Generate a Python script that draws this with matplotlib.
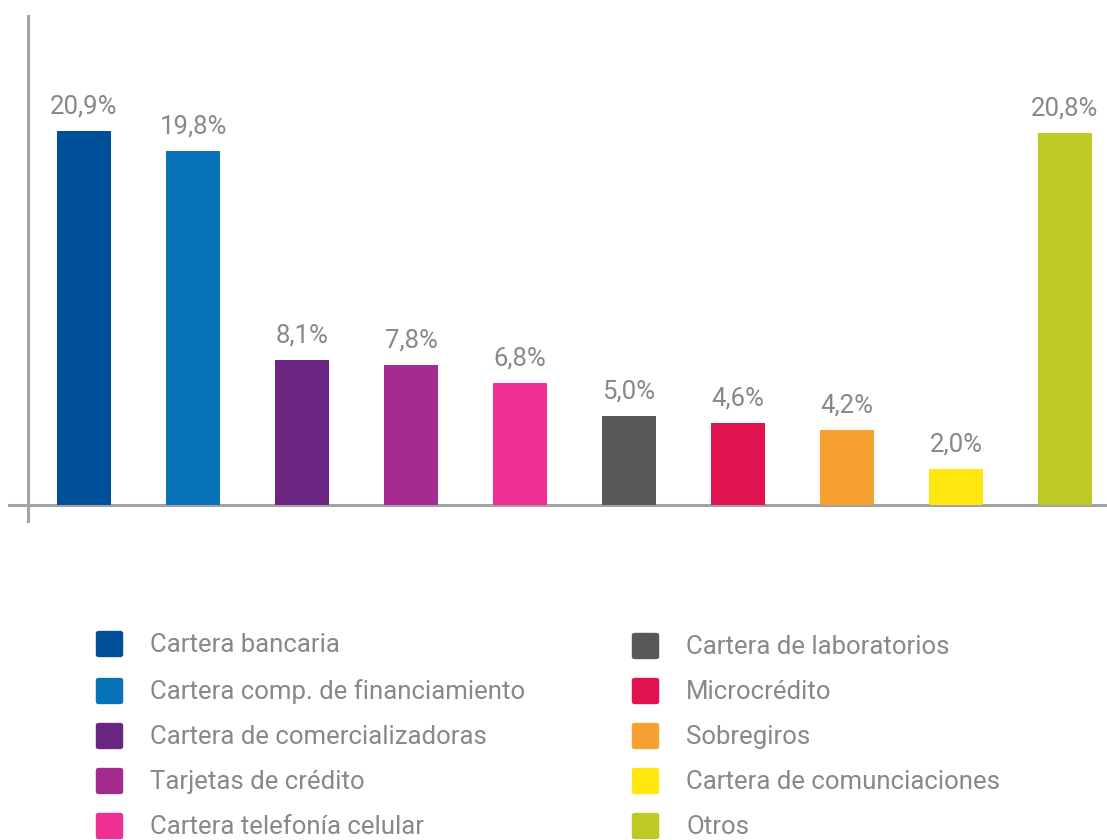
import matplotlib
matplotlib.use("Agg")
import matplotlib.pyplot as plt
from matplotlib.patches import FancyBboxPatch

categorias = [
    "Cartera bancaria",
    "Cartera comp. de financiamiento",
    "Cartera de comercializadoras",
    "Tarjetas de crédito",
    "Cartera telefonía celular",
    "Cartera de laboratorios",
    "Microcrédito",
    "Sobregiros",
    "Cartera de comunciaciones",
    "Otros",
]
valores = [20.9, 19.8, 8.1, 7.8, 6.8, 5.0, 4.6, 4.2, 2.0, 20.8]
etiquetas = ["20,9%", "19,8%", "8,1%", "7,8%", "6,8%", "5,0%", "4,6%", "4,2%", "2,0%", "20,8%"]
colores = ["#004f99", "#0873b9", "#6b2583", "#a62b8f", "#ee2f93",
           "#58585a", "#e0124f", "#f6a131", "#ffe70f", "#bec923"]

texto_gris = "#86888b"
eje_gris = "#a3a3a6"
plt.rcParams["font.family"] = ["Roboto", "DejaVu Sans"]

W, H = 1107, 840
fig = plt.figure(figsize=(W / 100, H / 100), dpi=100)

# axes spans px x 8..1107, y 15..523
ax = fig.add_axes([8 / W, 1 - 523 / H, 1 - 8 / W, (523 - 15) / H])
px_x = 109.0
px_y = 17.9
xmin = -(84 - 8) / px_x
ax.set_xlim(xmin, xmin + (W - 8) / px_x)
ax.set_ylim(-(523 - 505) / px_y, (505 - 15) / px_y)

x = list(range(len(valores)))
ax.bar(x, valores, width=0.5, color=colores, zorder=2)
for xi, v, t in zip(x, valores, etiquetas):
    ax.annotate(t, (xi, v), xytext=(0, 9), textcoords="offset points",
                ha="center", va="bottom", fontsize=18.5, color=texto_gris)

ax.axhline(0, color=eje_gris, lw=2.2, zorder=1)
ax.axvline(xmin + 20 / px_x, color=eje_gris, lw=2.2, zorder=1)
ax.axis("off")

# leyenda en dos columnas
filas_y = [644, 691, 736, 781, 826]
for i, (cat, col) in enumerate(zip(categorias, colores)):
    colx = 96 if i < 5 else 632
    cy = filas_y[i % 5] + (2 if (i >= 5 and i % 5 == 0) else 0)
    sq = 27
    p = FancyBboxPatch(((colx + 2) / W, 1 - (cy + sq / 2 - 2) / H), (sq - 4) / W, (sq - 4) / H,
                       boxstyle="round,pad=0.002,rounding_size=0.003",
                       transform=fig.transFigure, facecolor=col, edgecolor="none")
    fig.patches.append(p)
    fig.text((colx + 54) / W, 1 - (cy + 1) / H, cat, fontsize=18.5, color=texto_gris,
             va="center", ha="left")

fig.savefig("out.png", dpi=100)
